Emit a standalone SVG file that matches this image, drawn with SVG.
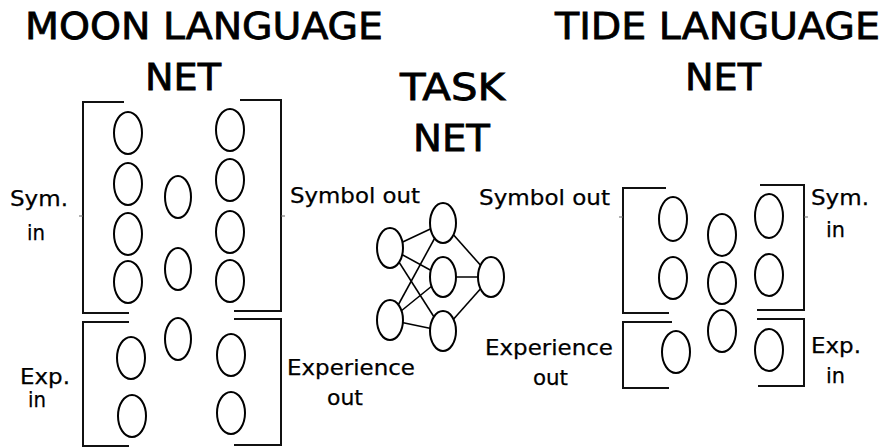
<svg xmlns="http://www.w3.org/2000/svg" width="881" height="448" viewBox="0 0 881 448">
  <style>
    .title { font-family: "DejaVu Sans", "Liberation Sans", sans-serif; font-size: 38px; fill: #000; stroke: #000; stroke-width: 0.8; }
    .label { font-family: "DejaVu Sans", "Liberation Sans", sans-serif; font-size: 21px; fill: #000; stroke: #000; stroke-width: 0.25; }
    .unit { fill: #fff; stroke: #000; stroke-width: 2; }
    .bracket { fill: none; stroke: #111; stroke-width: 2; }
    .tick { stroke: #666; stroke-width: 1; }
    .link { stroke: #000; stroke-width: 1.6; }
  </style>

  <!-- Moon language network -->
  <g id="moon-net">
    <text class="title" x="25" y="39" textLength="358" lengthAdjust="spacingAndGlyphs">MOON LANGUAGE</text>
    <text class="title" x="145" y="90" textLength="76" lengthAdjust="spacingAndGlyphs">NET</text>
    <!-- symbol bank brackets -->
    <path class="bracket" d="M124,102 H83 V313 H129"/>
    <path class="bracket" d="M240,100 H281 V311 H234"/>
    <!-- experience bank brackets -->
    <path class="bracket" d="M129,322 H83 V446 H129"/>
    <path class="bracket" d="M234,319 H281 V445 H234"/>
    <line class="tick" x1="79" y1="216" x2="83" y2="216"/>
    <line class="tick" x1="281" y1="216" x2="285" y2="216"/>
    <!-- left column -->
    <ellipse class="unit" cx="128" cy="133" rx="14" ry="21"/>
    <ellipse class="unit" cx="128" cy="184" rx="14" ry="21"/>
    <ellipse class="unit" cx="128" cy="234" rx="14" ry="21"/>
    <ellipse class="unit" cx="128" cy="282" rx="14" ry="21"/>
    <ellipse class="unit" cx="131" cy="358" rx="14" ry="21"/>
    <ellipse class="unit" cx="132" cy="416" rx="14" ry="21"/>
    <!-- hidden column -->
    <ellipse class="unit" cx="178" cy="197" rx="13" ry="21"/>
    <ellipse class="unit" cx="178" cy="269" rx="13" ry="21"/>
    <ellipse class="unit" cx="178" cy="339" rx="13" ry="21"/>
    <!-- right column -->
    <ellipse class="unit" cx="230" cy="130" rx="14" ry="21"/>
    <ellipse class="unit" cx="230" cy="180" rx="14" ry="21"/>
    <ellipse class="unit" cx="230" cy="232" rx="14" ry="21"/>
    <ellipse class="unit" cx="230" cy="281" rx="14" ry="21"/>
    <ellipse class="unit" cx="231" cy="355" rx="14" ry="21"/>
    <ellipse class="unit" cx="231" cy="413" rx="14" ry="21"/>
    <!-- side labels -->
    <text class="label" x="10" y="206" textLength="58" lengthAdjust="spacingAndGlyphs">Sym.</text>
    <text class="label" x="27" y="240" textLength="18" lengthAdjust="spacingAndGlyphs">in</text>
    <text class="label" x="20" y="384" textLength="50" lengthAdjust="spacingAndGlyphs">Exp.</text>
    <text class="label" x="28" y="407" textLength="18" lengthAdjust="spacingAndGlyphs">in</text>
    <text class="label" x="287" y="375" textLength="128" lengthAdjust="spacingAndGlyphs">Experience</text>
    <text class="label" x="327" y="405" textLength="36" lengthAdjust="spacingAndGlyphs">out</text>
  </g>

  <!-- Task network -->
  <g id="task-net">
    <text class="title" x="400" y="100" textLength="105" lengthAdjust="spacingAndGlyphs">TASK</text>
    <text class="title" x="413" y="151" textLength="77" lengthAdjust="spacingAndGlyphs">NET</text>
    <text class="label" x="290" y="203" textLength="130" lengthAdjust="spacingAndGlyphs">Symbol out</text>
  </g>

  <!-- Task network connections -->
  <g id="connectors">
    <line class="link" x1="390" y1="248" x2="443" y2="223"/>
    <line class="link" x1="390" y1="248" x2="443" y2="277"/>
    <line class="link" x1="390" y1="248" x2="443" y2="331"/>
    <line class="link" x1="390" y1="320" x2="443" y2="223"/>
    <line class="link" x1="390" y1="320" x2="443" y2="277"/>
    <line class="link" x1="390" y1="320" x2="443" y2="331"/>
    <line class="link" x1="443" y1="223" x2="491" y2="277"/>
    <line class="link" x1="443" y1="277" x2="491" y2="277"/>
    <line class="link" x1="443" y1="331" x2="491" y2="277"/>
  </g>

  <g id="task-units">
    <ellipse class="unit" cx="390" cy="248" rx="13" ry="20"/>
    <ellipse class="unit" cx="390" cy="320" rx="13" ry="20"/>
    <ellipse class="unit" cx="443" cy="223" rx="13" ry="20"/>
    <ellipse class="unit" cx="443" cy="277" rx="13" ry="20"/>
    <ellipse class="unit" cx="443" cy="331" rx="13" ry="20"/>
    <ellipse class="unit" cx="491" cy="277" rx="13" ry="20"/>
  </g>

  <!-- Tide language network -->
  <g id="tide-net">
    <text class="title" x="555" y="39" textLength="325" lengthAdjust="spacingAndGlyphs">TIDE LANGUAGE</text>
    <text class="title" x="685" y="90" textLength="76" lengthAdjust="spacingAndGlyphs">NET</text>
    <path class="bracket" d="M666,188 H623 V313 H669"/>
    <path class="bracket" d="M672,322 H623 V388 H669"/>
    <path class="bracket" d="M760,185 H804 V310 H757"/>
    <path class="bracket" d="M757,319 H804 V386 H758"/>
    <line class="tick" x1="619" y1="217" x2="623" y2="217"/>
    <line class="tick" x1="804" y1="217" x2="808" y2="217"/>
    <!-- left column -->
    <ellipse class="unit" cx="673" cy="219" rx="14" ry="22"/>
    <ellipse class="unit" cx="673" cy="278" rx="14" ry="21"/>
    <ellipse class="unit" cx="676" cy="352" rx="14" ry="21"/>
    <!-- hidden column -->
    <ellipse class="unit" cx="722" cy="235" rx="14" ry="21"/>
    <ellipse class="unit" cx="722" cy="283" rx="14" ry="21"/>
    <ellipse class="unit" cx="722" cy="331" rx="14" ry="21"/>
    <!-- right column -->
    <ellipse class="unit" cx="769" cy="216" rx="14" ry="22"/>
    <ellipse class="unit" cx="769" cy="275" rx="14" ry="21"/>
    <ellipse class="unit" cx="769" cy="350" rx="14" ry="21"/>
    <!-- labels -->
    <text class="label" x="479" y="205" textLength="131" lengthAdjust="spacingAndGlyphs">Symbol out</text>
    <text class="label" x="485" y="355" textLength="128" lengthAdjust="spacingAndGlyphs">Experience</text>
    <text class="label" x="533" y="385" textLength="35" lengthAdjust="spacingAndGlyphs">out</text>
    <text class="label" x="811" y="205" textLength="58" lengthAdjust="spacingAndGlyphs">Sym.</text>
    <text class="label" x="826" y="237" textLength="19" lengthAdjust="spacingAndGlyphs">in</text>
    <text class="label" x="811" y="353" textLength="50" lengthAdjust="spacingAndGlyphs">Exp.</text>
    <text class="label" x="826" y="383" textLength="19" lengthAdjust="spacingAndGlyphs">in</text>
  </g>
</svg>
